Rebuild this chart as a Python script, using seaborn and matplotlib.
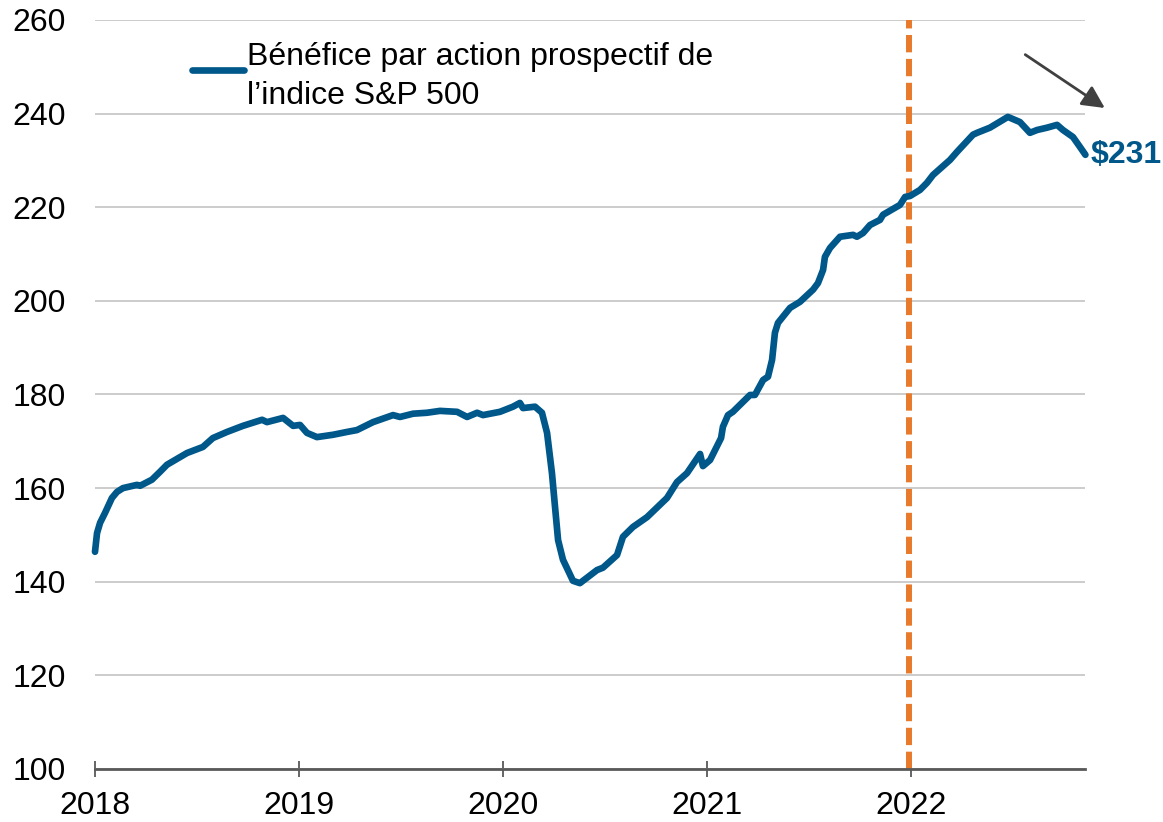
import numpy as np
import pandas as pd
import matplotlib
matplotlib.use("Agg")
import matplotlib.pyplot as plt
import seaborn as sns

# ---- data (decimal years, forward EPS) ----
years = [2018.000, 2018.010, 2018.025, 2018.049, 2018.083, 2018.108, 2018.137, 2018.206,
         2018.221, 2018.279, 2018.319, 2018.353, 2018.451, 2018.529, 2018.578, 2018.647,
         2018.725, 2018.819, 2018.843, 2018.922, 2018.971, 2019.005, 2019.039, 2019.088,
         2019.167, 2019.235, 2019.284, 2019.363, 2019.461, 2019.495, 2019.559, 2019.627,
         2019.691, 2019.775, 2019.824, 2019.873, 2019.902, 2019.985, 2020.049, 2020.083,
         2020.098, 2020.157, 2020.191, 2020.216, 2020.240, 2020.255, 2020.270, 2020.294,
         2020.343, 2020.377, 2020.461, 2020.490, 2020.559, 2020.588, 2020.637, 2020.706,
         2020.804, 2020.853, 2020.902, 2020.966, 2020.980, 2021.015, 2021.069, 2021.078,
         2021.103, 2021.127, 2021.211, 2021.235, 2021.275, 2021.299, 2021.319, 2021.333,
         2021.348, 2021.407, 2021.456, 2021.520, 2021.544, 2021.569, 2021.578, 2021.603,
         2021.652, 2021.716, 2021.735, 2021.765, 2021.799, 2021.848, 2021.863, 2021.946,
         2021.971, 2021.995, 2022.044, 2022.078, 2022.108, 2022.191, 2022.225, 2022.304,
         2022.324, 2022.387, 2022.475, 2022.534, 2022.583, 2022.618, 2022.667, 2022.716,
         2022.745, 2022.794, 2022.828, 2022.855]
eps = [146.4, 150.4, 152.6, 154.7, 157.9, 159.2, 160.0, 160.7,
       160.5, 161.8, 163.5, 165.0, 167.5, 168.8, 170.7, 172.0,
       173.3, 174.6, 174.1, 175.0, 173.3, 173.5, 171.8, 170.9,
       171.4, 172.0, 172.4, 174.1, 175.6, 175.2, 175.9, 176.1,
       176.5, 176.3, 175.2, 176.1, 175.6, 176.3, 177.4, 178.2,
       177.1, 177.4, 176.1, 171.8, 163.2, 156.0, 148.9, 144.7,
       140.2, 139.7, 142.5, 143.0, 145.7, 149.6, 151.7, 153.8,
       157.9, 161.3, 163.2, 167.3, 164.7, 166.0, 170.7, 173.1,
       175.6, 176.3, 179.9, 179.9, 183.1, 183.8, 187.4, 193.2,
       195.3, 198.5, 199.8, 202.4, 203.8, 206.6, 209.4, 211.3,
       213.7, 214.1, 213.7, 214.5, 216.2, 217.3, 218.4, 220.5,
       222.2, 222.4, 223.7, 225.2, 226.9, 230.1, 231.8, 235.5,
       235.9, 237.0, 239.3, 238.2, 235.9, 236.5, 237.0, 237.6,
       236.5, 235.0, 232.9, 231.2]
year_ticks = [2018, 2019, 2020, 2021, 2022]
y_ticks = [100, 120, 140, 160, 180, 200, 220, 240, 260]
series_label = "Bénéfice par action prospectif de\nl’indice S&P 500"
end_label = "$231"
vline_year = 2021.99

df = pd.DataFrame({"year": years, "eps": eps})

BLUE = "#00578A"
ORANGE = "#E87A2B"
FS = 23

sns.set_theme(style="white")
plt.rcParams["font.family"] = ["Liberation Sans", "DejaVu Sans"]
plt.rcParams["text.color"] = "black"

fig = plt.figure(figsize=(11.63, 8.22), dpi=100)
ax = fig.add_axes([95 / 1163, 1 - 769 / 822, 990 / 1163, 749 / 822])

sns.lineplot(data=df, x="year", y="eps", ax=ax, color=BLUE, linewidth=4.8,
             estimator=None, sort=False, label=series_label,
             solid_capstyle="round", solid_joinstyle="round", clip_on=False, zorder=4)

ax.axvline(vline_year, color=ORANGE, linewidth=4.3, dashes=(2.9, 1.1), zorder=3)

ax.set_xlim(2018, 2018 + 990 / 204)
ax.set_ylim(100, 260)
ax.set_xticks(year_ticks)
ax.set_xticklabels([str(y) for y in year_ticks])
ax.set_yticks(y_ticks)
ax.set_xlabel("")
ax.set_ylabel("")

ax.grid(axis="y", color="#c8c8c8", linewidth=1.3)
ax.grid(axis="x", visible=False)
for s in ["top", "right", "left"]:
    ax.spines[s].set_visible(False)
ax.spines["bottom"].set_color("#595959")
ax.spines["bottom"].set_linewidth(2)
ax.spines["bottom"].set_zorder(5)

ax.tick_params(axis="x", direction="inout", length=12, width=1.3, color="#595959",
               labelsize=FS, pad=10, labelcolor="black", bottom=True)
ax.tick_params(axis="y", length=0, labelsize=FS, pad=21, labelcolor="black")

# end value label
ax.annotate(end_label, xy=(years[-1], eps[-1]), xytext=(4, 0), textcoords="offset points",
            ha="left", va="center", fontsize=FS, fontweight="bold", color=BLUE,
            annotation_clip=False)

# downward arrow
ax.annotate("", xy=(2022.95, 241.2), xytext=(2022.56, 252.6),
            arrowprops=dict(arrowstyle="-|>", color="#404040", lw=2, mutation_scale=34,
                            shrinkA=0, shrinkB=0),
            annotation_clip=False)

leg = ax.legend(loc="upper left", bbox_to_anchor=((192 - 95) / 990, (769 - 42) / 749),
                frameon=False, fontsize=FS, handlelength=1.63, handletextpad=0.1,
                borderaxespad=0, borderpad=0)
for t in leg.get_texts():
    t.set_color("black")
    t.set_linespacing(1.4)
for h in leg.legend_handles:
    h.set_linewidth(4.8)
    # raise the key to sit level with the first text line, as in the original
    h.set_ydata(np.asarray(h.get_ydata(), dtype=float) + 5.0)

fig.savefig("out.png", dpi=100)
